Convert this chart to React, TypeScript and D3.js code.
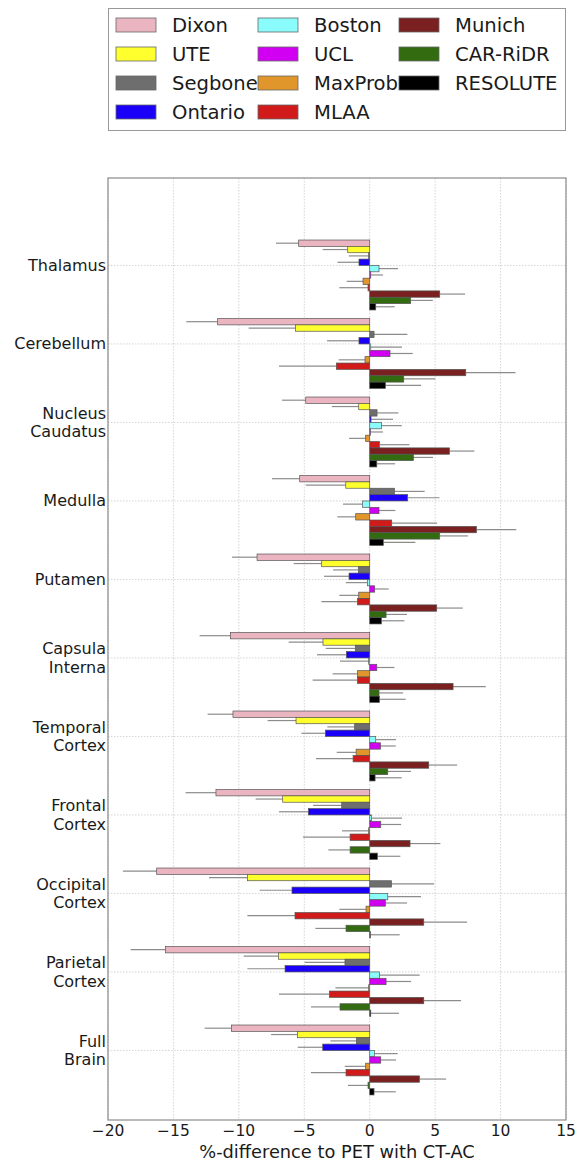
import React from "react";
import * as d3 from "d3";

const regions = [
  "Thalamus",
  "Cerebellum",
  "Nucleus\nCaudatus",
  "Medulla",
  "Putamen",
  "Capsula\nInterna",
  "Temporal\nCortex",
  "Frontal\nCortex",
  "Occipital\nCortex",
  "Parietal\nCortex",
  "Full\nBrain",
];

const methods = ["Dixon", "UTE", "Segbone", "Ontario", "Boston", "UCL", "MaxProb", "MLAA", "Munich", "CAR-RiDR", "RESOLUTE"];
const colors = ["#ebb4c1", "#ffff2e", "#6e6e6e", "#1a00f8", "#8afcfc", "#d200f2", "#e0962a", "#d11a1a", "#7b2020", "#336b10", "#000000"];

// mean % difference per method, one row per region (same order as regions)
const meanThalamus = [-5.43, -1.68, -0.08, -0.82, 0.71, 0.08, -0.51, -0.13, 5.35, 3.13, 0.46];
const meanCerebellum = [-11.62, -5.66, 0.33, -0.82, 0.08, 1.55, -0.36, -2.55, 7.34, 2.6, 1.2];
const meanCaudatus = [-4.89, -0.84, 0.56, 0.1, 0.89, 0.05, -0.31, 0.74, 6.09, 3.34, 0.54];
const meanMedulla = [-5.35, -1.83, 1.89, 2.9, -0.54, 0.71, -1.07, 1.68, 8.15, 5.35, 1.04];
const meanPutamen = [-8.61, -3.67, -0.87, -1.58, -0.18, 0.38, -0.84, -0.94, 5.12, 1.25, 0.89];
const meanCapsula = [-10.65, -3.57, -1.1, -1.78, -0.08, 0.54, -0.94, -0.94, 6.37, 0.71, 0.74];
const meanTemporal = [-10.45, -5.63, -1.15, -3.39, 0.46, 0.82, -1.04, -1.27, 4.51, 1.38, 0.41];
const meanFrontal = [-11.75, -6.65, -2.14, -4.69, 0.13, 0.84, -0.08, -1.5, 3.08, -1.5, 0.59];
const meanOccipital = [-16.28, -9.35, 1.66, -5.94, 1.38, 1.2, -0.28, -5.71, 4.13, -1.81, 0.05];
const meanParietal = [-15.6, -6.96, -1.89, -6.47, 0.74, 1.25, -0.08, -3.08, 4.13, -2.27, 0.08];
const meanFullBrain = [-10.57, -5.53, -1.02, -3.59, 0.36, 0.84, -0.31, -1.81, 3.8, -0.13, 0.33];

// standard deviation per method
const sdThalamus = [1.73, 1.91, 1.52, 1.65, 1.46, 0.94, 1.25, 2.19, 1.94, 1.69, 1.45];
const sdCerebellum = [2.4, 3.59, 2.55, 2.44, 2.39, 1.74, 2.01, 4.38, 3.8, 2.42, 2.72];
const sdCaudatus = [1.81, 2.06, 1.63, 1.68, 1.56, 0.97, 1.27, 2.29, 1.91, 1.5, 1.4];
const sdMedulla = [2.12, 3.06, 2.31, 2.43, 1.5, 1.25, 1.4, 3.47, 3.05, 2.17, 2.45];
const sdPutamen = [1.91, 2.14, 1.93, 1.91, 1.65, 1.07, 1.48, 2.76, 1.99, 1.6, 1.76];
const sdCapsula = [2.35, 2.62, 2.26, 2.25, 2.19, 1.35, 1.89, 3.42, 2.5, 1.84, 2.01];
const sdTemporal = [1.94, 2.17, 2.09, 1.83, 1.55, 1.17, 1.48, 2.83, 2.17, 1.78, 2.04];
const sdFrontal = [2.32, 2.07, 2.19, 2.24, 2.34, 1.56, 2.04, 3.6, 2.32, 1.66, 1.75];
const sdOccipital = [2.58, 2.93, 3.26, 2.47, 2.54, 1.65, 2.04, 3.64, 3.31, 2.34, 2.24];
const sdParietal = [2.67, 2.67, 3.08, 2.88, 3.08, 1.91, 2.54, 3.85, 2.85, 2.22, 2.16];
const sdFullBrain = [2.04, 2.01, 1.99, 1.91, 1.78, 1.17, 1.6, 2.68, 2.04, 1.53, 1.66];

const means = [meanThalamus, meanCerebellum, meanCaudatus, meanMedulla, meanPutamen, meanCapsula, meanTemporal, meanFrontal, meanOccipital, meanParietal, meanFullBrain];
const sds = [sdThalamus, sdCerebellum, sdCaudatus, sdMedulla, sdPutamen, sdCapsula, sdTemporal, sdFrontal, sdOccipital, sdParietal, sdFullBrain];

const xTicks = [-20, -15, -10, -5, 0, 5, 10, 15];
const xTitle = "%-difference to PET with CT-AC";

const W = 576;
const H = 1165;
const plot = { left: 108, right: 566, top: 178, bottom: 1120 };
const BW = 0.081; // bar thickness in group units
const TICK_OFF = 4 * BW;

const font = "'DejaVu Sans', Verdana, sans-serif";

export default function App() {
  const x = d3.scaleLinear().domain([-20, 15]).range([plot.left, plot.right]);
  const y = d3.scaleLinear().domain([-0.79, 11.21]).range([plot.top, plot.bottom]);
  const bh = y(BW) - y(0);

  const legendCols = [116, 258, 399];
  const legendRows = [25, 54, 83, 112];

  return (
    <svg width={W} height={H} style={{ position: "absolute", left: 0, top: 0, background: "#fff" }} fontFamily={font}>
      {/* legend */}
      <rect x={108.5} y={8.5} width={457} height={122} fill="#fff" stroke="#999" strokeWidth={1} />
      {methods.map((m, k) => {
        const col = Math.floor(k / 4);
        const row = k % 4;
        const cx = legendCols[col];
        const cy = legendRows[row];
        return (
          <g key={m}>
            <rect x={cx} y={cy - 7} width={40} height={14} fill={colors[k]} stroke="#666" strokeWidth={0.8} />
            <text x={cx + 56} y={cy + 7} fontSize={19.6} fill="#1a1a1a">{m}</text>
          </g>
        );
      })}

      {/* grid */}
      {xTicks.map((t) => (
        <line key={"gx" + t} x1={x(t)} x2={x(t)} y1={plot.top} y2={plot.bottom} stroke="#cacaca" strokeWidth={0.8} strokeDasharray="1.5,1.5" />
      ))}
      {regions.map((r, i) => (
        <line key={"gy" + i} x1={plot.left} x2={plot.right} y1={y(i + TICK_OFF)} y2={y(i + TICK_OFF)} stroke="#cacaca" strokeWidth={0.8} strokeDasharray="1.5,1.5" />
      ))}

      {/* bars */}
      {means.map((row, i) =>
        row.map((v, j) => {
          const top = y(i + j * BW);
          const x0 = x(0);
          const xv = x(v);
          const yc = top + bh / 2;
          const errEnd = x(v + Math.sign(v || 1) * sds[i][j]);
          return (
            <g key={`b${i}-${j}`}>
              <line x1={xv} x2={errEnd} y1={yc} y2={yc} stroke="#8c8c8c" strokeWidth={1.2} />
              <rect x={Math.min(x0, xv)} y={top} width={Math.abs(xv - x0)} height={bh} fill={colors[j]} stroke="#555" strokeWidth={0.7} />
            </g>
          );
        })
      )}

      {/* frame */}
      <rect x={plot.left} y={plot.top} width={plot.right - plot.left} height={plot.bottom - plot.top} fill="none" stroke="#8a8a8a" strokeWidth={1.2} />

      {/* y labels */}
      {regions.map((r, i) => {
        const lines = r.split("\n");
        const yc = y(i + TICK_OFF);
        return (
          <text key={"yl" + i} x={106} fontSize={16} fill="#1a1a1a" textAnchor="end">
            {lines.map((ln, k) => (
              <tspan key={k} x={106} y={yc + 5.5 + (k - (lines.length - 1) / 2) * 18.5}>{ln}</tspan>
            ))}
          </text>
        );
      })}

      {/* x tick labels */}
      {xTicks.map((t) => (
        <text key={"xt" + t} x={x(t)} y={1136} fontSize={15.5} textAnchor="middle" fill="#1a1a1a">
          {t < 0 ? "\u2212" + Math.abs(t) : String(t)}
        </text>
      ))}
      <text x={(plot.left + plot.right) / 2} y={1158} fontSize={17.8} textAnchor="middle" fill="#1a1a1a">{xTitle}</text>
    </svg>
  );
}
